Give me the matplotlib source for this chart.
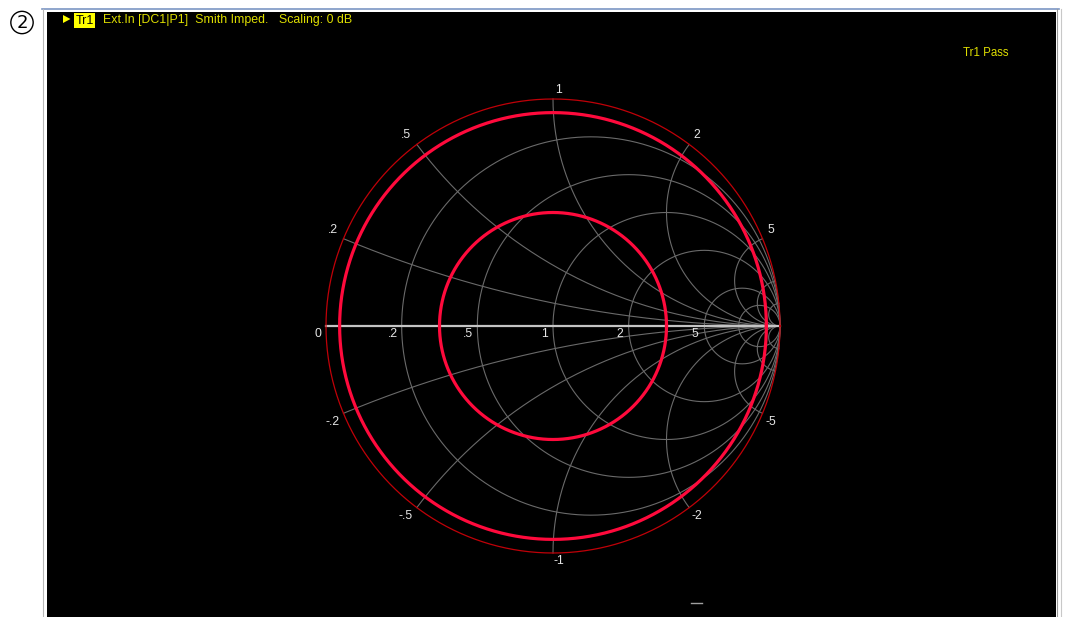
import numpy as np
import matplotlib
matplotlib.use("Agg")
import matplotlib.pyplot as plt
from matplotlib.patches import Rectangle, Polygon
from matplotlib.lines import Line2D

# Smith chart grid values
resistance_values = [0.2, 0.5, 1, 2, 5, 10]
resistance_labels = [".2", ".5", "1", "2", "5"]
reactance_values = [0.2, 0.5, 1, 2, 5, 10, 20]
reactance_labels = [".2", ".5", "1", "2", "5"]

# Trace circles, given as reflection coefficient magnitude |Gamma|
trace_magnitudes = [0.94, 0.50]

header_text = "Ext.In [DC1|P1]  Smith Imped.   Scaling: 0 dB"
trace_name = "Tr1"
limit_status = "Tr1 Pass"

W, H = 1068, 617
fig = plt.figure(figsize=(W / 100, H / 100), dpi=100)
fig.patch.set_facecolor("white")


def fx(px):
    return px / W


def fy(py):
    return 1 - py / H


FONT = "Liberation Sans"
YELLOW = "#dede00"
GRID = "#6a6a6a"
LABEL = "#e6e6e6"

# window frame and black display panel
fig.add_artist(Rectangle((fx(47), fy(617)), fx(1056) - fx(47), fy(12) - fy(617),
                         transform=fig.transFigure, fc="black", ec="none", zorder=0))
fig.add_artist(Line2D([fx(42), fx(1059)], [fy(8.5), fy(8.5)], transform=fig.transFigure,
                      color="#7b96c4", lw=1.2))
fig.add_artist(Line2D([fx(43), fx(43)], [fy(9), fy(617)], transform=fig.transFigure,
                      color="#b8b8b8", lw=0.8))
fig.add_artist(Line2D([fx(1056.5), fx(1056.5)], [fy(9), fy(617)], transform=fig.transFigure,
                      color="#9a9a9a", lw=0.8))
fig.add_artist(Line2D([fx(1060.5), fx(1060.5)], [fy(9), fy(617)], transform=fig.transFigure,
                      color="#c8c8c8", lw=0.8))

# channel window number
fig.text(fx(22), fy(22.5), "2", ha="center", va="center", fontsize=13, family="DejaVu Sans",
         color="black",
         bbox=dict(boxstyle="circle,pad=0.12", fc="white", ec="black", lw=1.0))

# trace header
fig.add_artist(Polygon([[fx(63), fy(15)], [fx(70.5), fy(19)], [fx(63), fy(23)]],
                       closed=True, transform=fig.transFigure, fc="#ffff00", ec="none"))
fig.text(fx(84.5), fy(20.5), trace_name, ha="center", va="center", fontsize=9, family=FONT,
         color="black",
         bbox=dict(boxstyle="square,pad=0.1", fc="#ffff00", ec="none"))
fig.text(fx(103), fy(20.5), header_text, ha="left", va="center", fontsize=8.9, family=FONT,
         color=YELLOW)
fig.text(fx(986), fy(53.5), limit_status, ha="center", va="center", fontsize=8.3, family=FONT,
         color=YELLOW)
fig.add_artist(Line2D([fx(691), fx(702)], [fy(603), fy(603)], transform=fig.transFigure,
                      color="#a0a0a0", lw=1.0))

# Smith chart axes: centre (553, 326) px, unit radius 227 px
cx, cy, R = 553, 326, 227
lim = 1.1
ax = fig.add_axes([fx(cx - lim * R), fy(cy + lim * R), 2 * lim * R / W, 2 * lim * R / H])
ax.set_xlim(-lim, lim)
ax.set_ylim(-lim, lim)
ax.axis("off")
ax.patch.set_alpha(0)

# constant-resistance circles
t = np.linspace(0, 2 * np.pi, 721)
for r in resistance_values:
    c = r / (1 + r)
    rad = 1 / (1 + r)
    ax.plot(c + rad * np.cos(t), rad * np.sin(t), color=GRID, lw=0.8, zorder=1)

# constant-reactance arcs (portion inside the unit circle)
for x in reactance_values:
    b = 1 / x
    ex = (x * x - 1) / (x * x + 1)
    ey = 2 * x / (x * x + 1)
    th0 = np.arctan2(ey - b, ex - 1) % (2 * np.pi)
    th = np.linspace(th0, 1.5 * np.pi, 400)
    xs = 1 + b * np.cos(th)
    ys = b + b * np.sin(th)
    for sgn in (1, -1):
        ax.plot(xs, sgn * ys, color=GRID, lw=0.8, zorder=1)

# real axis
ax.plot([-1, 1], [0, 0], color="#c4c4c4", lw=1.6, zorder=2)

# resistance labels along the real axis
ax.text(-1 - 8 / R, -8 / R, "0", ha="center", va="center", color=LABEL, fontsize=8.8,
        family=FONT)
for r, lab in zip(resistance_values, resistance_labels):
    left = (r - 1) / (r + 1)
    ax.text(left - 9 / R, -8 / R, lab, ha="center", va="center", color=LABEL,
            fontsize=8.8, family=FONT)

# reactance labels outside the unit circle
for x, lab in zip(reactance_values, reactance_labels):
    ex = (x * x - 1) / (x * x + 1)
    ey = 2 * x / (x * x + 1)
    dx = -11 if ex < -0.01 else (6 if abs(ex) <= 0.01 else 8)
    for sgn, prefix, dy in ((1, "", 9), (-1, "-", -8.5)):
        ax.text(ex + dx / R, sgn * ey + dy / R, prefix + lab, ha="center", va="center",
                color=LABEL, fontsize=8.8, family=FONT)

# unit circle boundary
ax.plot(np.cos(t), np.sin(t), color="#c00008", lw=0.9, zorder=3)

# measured traces
for m in trace_magnitudes:
    ax.plot(m * np.cos(t), m * np.sin(t), color="#ff0a3c", lw=2.3, zorder=4)

fig.savefig("out.png", dpi=100, facecolor="white")
